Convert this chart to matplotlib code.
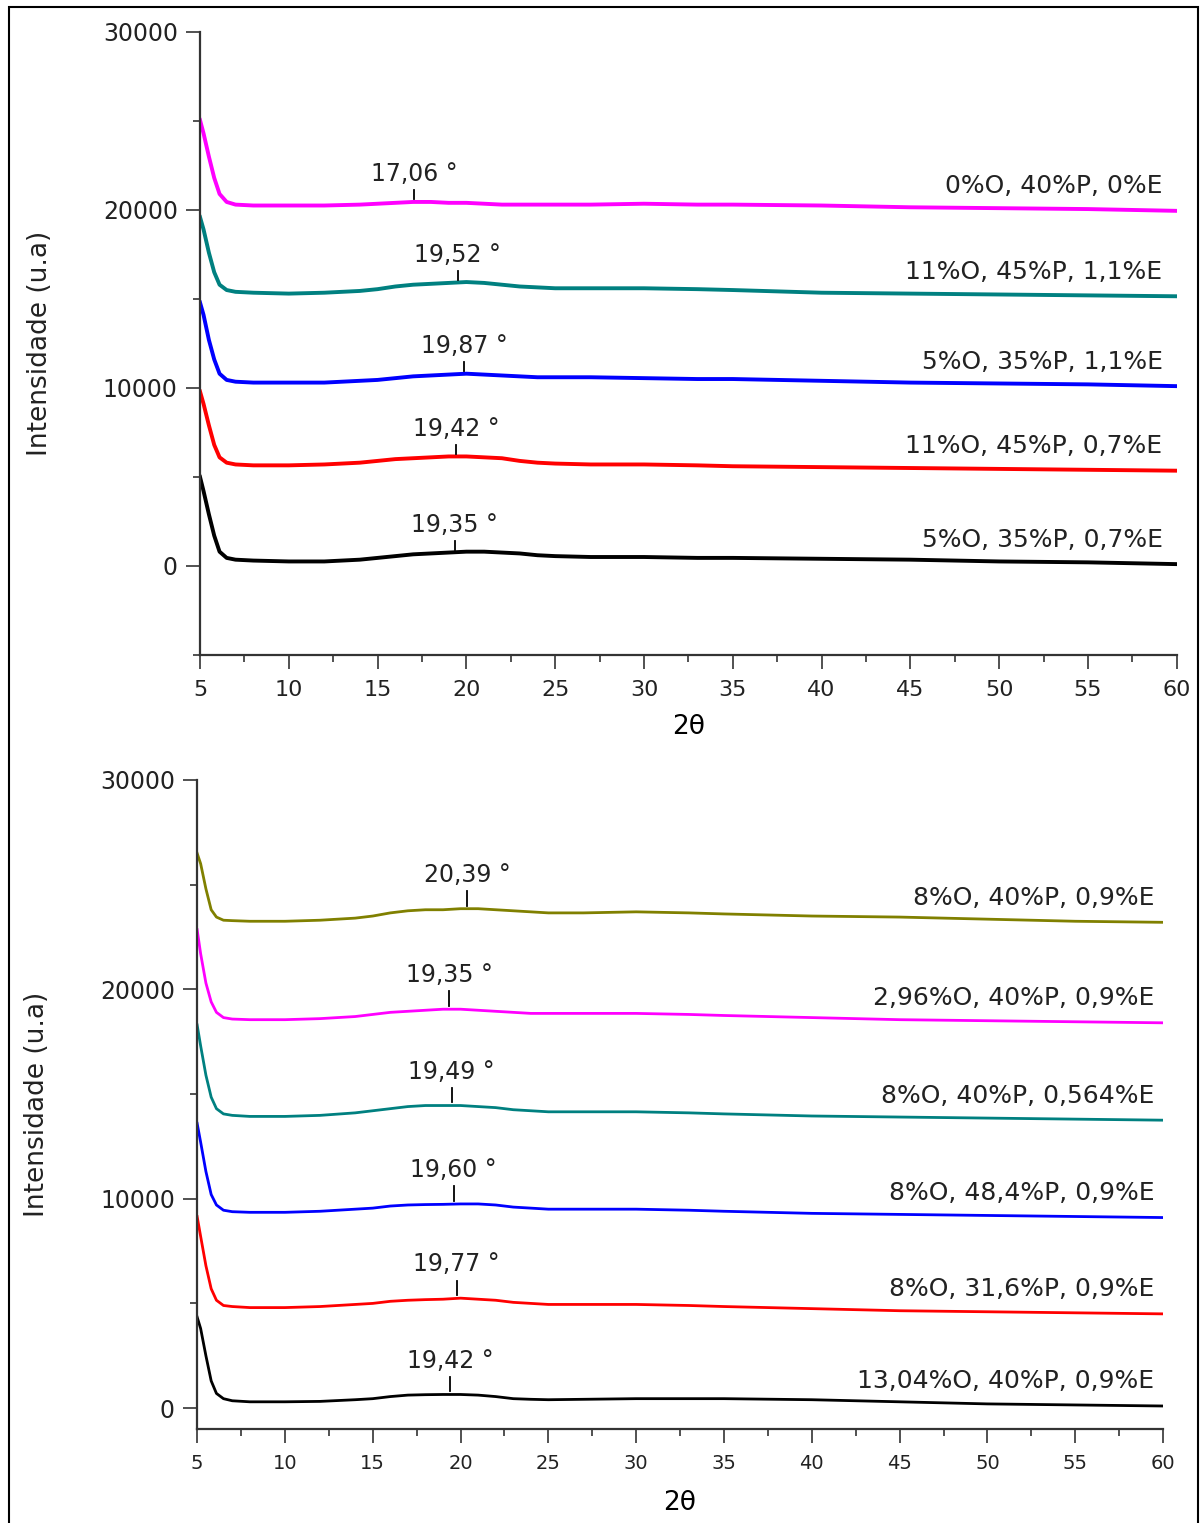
import numpy as np
import matplotlib
matplotlib.use("Agg")
import matplotlib.pyplot as plt
from matplotlib.patches import Rectangle
from matplotlib.ticker import MultipleLocator

# 2-theta sampling points used for every pattern
two_theta = [5, 5.2, 5.5, 5.8, 6.1, 6.5, 7, 8, 10, 12, 14, 15, 16, 17, 18, 19,
             20, 21, 22, 23, 24, 25, 27, 30, 33, 35, 40, 45, 50, 55, 60]

# --- upper panel (offset intensities) ---
top_labels = ["0%O, 40%P, 0%E", "11%O, 45%P, 1,1%E", "5%O, 35%P, 1,1%E",
              "11%O, 45%P, 0,7%E", "5%O, 35%P, 0,7%E"]
top_colors = ["#ff00ff", "#008080", "#0000ff", "#ff0000", "#000000"]
top_magenta = [25050, 24300, 23000, 21800, 20900, 20450, 20300, 20250, 20250, 20250, 20300,
               20350, 20400, 20450, 20450, 20400, 20400, 20350, 20300, 20300, 20300, 20300,
               20300, 20350, 20300, 20300, 20250, 20150, 20100, 20050, 19950]
top_teal = [19600, 18900, 17600, 16500, 15800, 15500, 15400, 15350, 15300, 15350, 15450,
            15550, 15700, 15800, 15850, 15900, 15950, 15900, 15800, 15700, 15650, 15600,
            15600, 15600, 15550, 15500, 15350, 15300, 15250, 15200, 15150]
top_blue = [14800, 14100, 12700, 11600, 10800, 10450, 10350, 10300, 10300, 10300, 10400,
            10450, 10550, 10650, 10700, 10750, 10800, 10750, 10700, 10650, 10600, 10600,
            10600, 10550, 10500, 10500, 10400, 10300, 10250, 10200, 10100]
top_red = [9800, 9100, 7900, 6800, 6100, 5800, 5700, 5650, 5650, 5700, 5800,
           5900, 6000, 6050, 6100, 6150, 6150, 6100, 6050, 5900, 5800, 5750,
           5700, 5700, 5650, 5600, 5550, 5500, 5450, 5400, 5350]
top_black = [5000, 4200, 2900, 1700, 800, 450, 350, 300, 250, 250, 350,
             450, 550, 650, 700, 750, 800, 800, 750, 700, 600, 550,
             500, 500, 450, 450, 400, 350, 250, 200, 100]
top_series = [top_magenta, top_teal, top_blue, top_red, top_black]
top_peaks = [17.06, 19.52, 19.87, 19.42, 19.35]
top_peak_text = ["17,06 °", "19,52 °", "19,87 °", "19,42 °", "19,35 °"]

# --- lower panel ---
bot_labels = ["8%O, 40%P, 0,9%E", "2,96%O, 40%P, 0,9%E", "8%O, 40%P, 0,564%E",
              "8%O, 48,4%P, 0,9%E", "8%O, 31,6%P, 0,9%E", "13,04%O, 40%P, 0,9%E"]
bot_colors = ["#808000", "#ff00ff", "#008080", "#0000ff", "#ff0000", "#000000"]
bot_olive = [26500, 26000, 24800, 23800, 23450, 23300, 23280, 23250, 23250, 23300, 23400,
             23500, 23650, 23750, 23800, 23800, 23850, 23850, 23800, 23750, 23700, 23650,
             23650, 23700, 23650, 23600, 23500, 23450, 23350, 23250, 23200]
bot_magenta = [22850, 21700, 20300, 19400, 18900, 18650, 18580, 18550, 18550, 18600, 18700,
               18800, 18900, 18950, 19000, 19050, 19050, 19000, 18950, 18900, 18850, 18850,
               18850, 18850, 18800, 18750, 18650, 18550, 18500, 18450, 18400]
bot_teal = [18300, 17300, 15900, 14850, 14300, 14050, 13980, 13930, 13930, 13980, 14100,
            14200, 14300, 14400, 14450, 14450, 14450, 14400, 14350, 14250, 14200, 14150,
            14150, 14150, 14100, 14050, 13950, 13900, 13850, 13800, 13750]
bot_blue = [13600, 12700, 11300, 10200, 9700, 9450, 9380, 9350, 9350, 9400, 9500,
            9550, 9650, 9700, 9720, 9730, 9750, 9750, 9700, 9600, 9550, 9500,
            9500, 9500, 9450, 9400, 9300, 9250, 9200, 9150, 9100]
bot_red = [9150, 8200, 6800, 5700, 5150, 4900, 4850, 4800, 4800, 4850, 4950,
           5000, 5100, 5150, 5180, 5200, 5250, 5200, 5150, 5050, 5000, 4950,
           4950, 4950, 4900, 4850, 4750, 4650, 4600, 4550, 4500]
bot_black = [4350, 3800, 2500, 1300, 700, 450, 350, 300, 300, 320, 400,
             450, 550, 620, 640, 650, 650, 620, 550, 450, 420, 400,
             420, 450, 450, 450, 400, 300, 200, 150, 100]
bot_series = [bot_olive, bot_magenta, bot_teal, bot_blue, bot_red, bot_black]
bot_peaks = [20.39, 19.35, 19.49, 19.60, 19.77, 19.42]
bot_peak_text = ["20,39 °", "19,35 °", "19,49 °", "19,60 °", "19,77 °", "19,42 °"]

txt = "#222222"
spine_c = "#333333"

fig = plt.figure(figsize=(12.02, 15.23), dpi=100)
ax1 = fig.add_axes([0.1664, 0.570, 0.8126, 0.409])
ax2 = fig.add_axes([0.1640, 0.0617, 0.8036, 0.4262])

# outer frame around the whole figure
fig.patches.append(Rectangle((9 / 1202, -0.01), 1189 / 1202, 1.01 - 7 / 1523,
                             transform=fig.transFigure, fill=False,
                             edgecolor="black", linewidth=1.5))


def style_axes(ax, ylim, xfont, yfont, labsize, xlabpad):
    ax.set_xlim(5, 60)
    ax.set_ylim(*ylim)
    for side in ("top", "right"):
        ax.spines[side].set_visible(False)
    for side in ("left", "bottom"):
        ax.spines[side].set_linewidth(1.6)
        ax.spines[side].set_color(spine_c)
    ax.xaxis.set_major_locator(MultipleLocator(5))
    ax.xaxis.set_minor_locator(MultipleLocator(2.5))
    ax.yaxis.set_major_locator(MultipleLocator(10000))
    ax.yaxis.set_minor_locator(MultipleLocator(5000))
    ax.tick_params(which="major", direction="out", length=10, width=1.2,
                   color=spine_c, labelcolor=txt)
    ax.tick_params(which="minor", direction="out", length=5, width=1.2, color=spine_c)
    ax.tick_params(axis="x", labelsize=xfont, pad=8)
    ax.tick_params(axis="y", labelsize=yfont, pad=6)
    ax.set_xlabel("2θ", fontsize=labsize, color="black", labelpad=xlabpad)
    ax.set_ylabel("Intensidade (u.a)", fontsize=labsize, color=txt, labelpad=36)


def draw_panel(ax, series, colors, labels, peaks, peak_text, lw, label_x, tick_len):
    for ys, c, lab, p, pt in zip(series, colors, labels, peaks, peak_text):
        ax.plot(two_theta, ys, color=c, linewidth=lw, solid_joinstyle="round")
        # peak marker: short vertical tick and its position text
        yp = np.interp(p, two_theta, ys)
        ax.plot([p, p], [yp + 150, yp + 150 + tick_len], color="black", linewidth=1.3)
        ax.annotate(pt, (p, yp + 150 + tick_len), xytext=(0, 3),
                    textcoords="offset points", ha="center", va="bottom",
                    fontsize=17, color=txt)
        ax.annotate(lab, (label_x, ys[-1]), xytext=(0, 9),
                    textcoords="offset points", ha="right", va="bottom",
                    fontsize=18, color=txt)


style_axes(ax1, (-5000, 30000), 16, 17, 19, 10)
draw_panel(ax1, top_series, top_colors, top_labels, top_peaks, top_peak_text,
           2.8, 59.2, 500)
ax1.set_yticks([0, 10000, 20000, 30000])

style_axes(ax2, (-1000, 30000), 14, 17, 19, 12)
draw_panel(ax2, bot_series, bot_colors, bot_labels, bot_peaks, bot_peak_text,
           2.0, 59.5, 700)
ax2.set_yticks([0, 10000, 20000, 30000])

fig.savefig("out.png", dpi=100)
